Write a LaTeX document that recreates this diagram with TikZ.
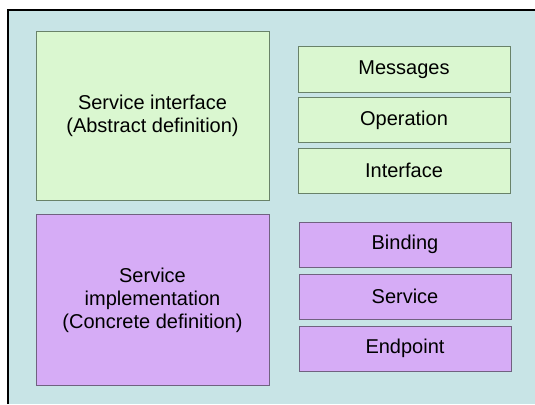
\documentclass[tikz,border=0pt]{standalone}
\usepackage{fontspec}
\setmainfont{Liberation Sans}
\definecolor{panelbg}{RGB}{200,228,230}
\definecolor{absfill}{RGB}{218,247,208}
\definecolor{absline}{RGB}{105,130,105}
\definecolor{concfill}{RGB}{214,172,246}
\definecolor{concline}{RGB}{112,98,128}
\tikzset{
absbox/.style={draw=absline, fill=absfill, line width=1pt, inner sep=0pt, align=center},
concbox/.style={draw=concline, fill=concfill, line width=1pt, inner sep=0pt, align=center},
}
\begin{document}
\begin{tikzpicture}[x=1pt, y=-1pt, font=\fontsize{20}{23}\selectfont]
\useasboundingbox (0,0) rectangle (535,404);

%panel
\fill[panelbg] (8,10) rectangle (535,404);
\draw[line width=1.2pt] (8,404) -- (8,10) -- (535,10);

%abstract definition
\node[absbox, minimum width=233pt, minimum height=168pt] (abstract) at (152.5,116)
  {Service interface\\(Abstract definition)};
\foreach \name/\txt [count=\i from 0] in {messages/Messages, operation/Operation, interface/Interface}
{ \node[absbox, minimum width=212pt, minimum height=45pt] (\name) at (404,69.5+\i*50.5) {\txt}; }

%concrete definition
\node[concbox, minimum width=233pt, minimum height=171pt] (concrete) at (152.5,300)
  {Service\\implementation\\(Concrete definition)};
\foreach \name/\txt [count=\i from 0] in {binding/Binding, service/Service, endpoint/Endpoint}
{ \node[concbox, minimum width=212pt, minimum height=45pt] (\name) at (405,244.5+\i*52) {\txt}; }
\end{tikzpicture}
\end{document}
